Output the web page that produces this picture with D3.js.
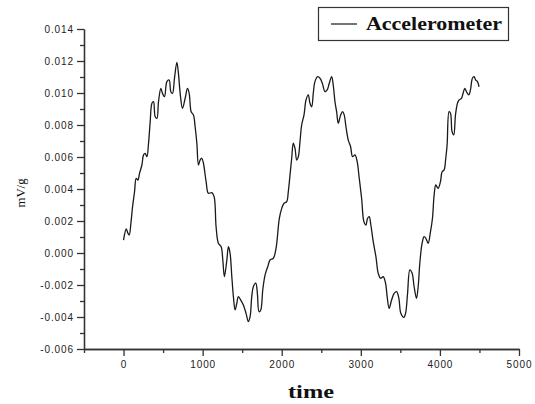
<!DOCTYPE html>
<head>
	<meta charset="utf-8" />
	<style>
		body {
			margin: 0;
			background-color: #fff;
			overflow: hidden;
		}
		.tick text {
			font: 10px 'Liberation Sans', Arial, sans-serif;
			letter-spacing: 0.9px;
			fill: #222;
		}
		.domain, .tick line {
			stroke: #333;
			stroke-width: 1.3px;
		}
	</style>
</head>

<body>
	<div id="chart-area"></div>

	<script src="https://cdn.jsdelivr.net/npm/d3@7/dist/d3.min.js"></script>

	<script>
		// readings taken off the original plot
		const time = [
			0, 34, 56, 72, 93, 114, 139, 160, 182, 202, 232, 253, 274, 295, 316, 337, 359, 379, 400, 422,
			442, 472, 492, 518, 548, 577, 598, 619, 644, 674, 694, 716, 745, 779, 808, 830, 855, 884, 905, 927,
			947, 968, 990, 1010, 1044, 1073, 1116, 1145, 1170, 1199, 1234, 1255, 1275, 1306, 1326, 1347, 1369, 1389, 1410, 1432,
			1452, 1482, 1515, 1549, 1578, 1600, 1621, 1641, 1672, 1692, 1713, 1735, 1760, 1789, 1823, 1852, 1894, 1928, 1970, 2000,
			2029, 2063, 2083, 2105, 2126, 2146, 2168, 2189, 2210, 2231, 2252, 2282, 2307, 2336, 2357, 2379, 2399, 2420, 2454, 2484,
			2513, 2547, 2576, 2601, 2631, 2651, 2673, 2694, 2715, 2745, 2770, 2790, 2812, 2841, 2871, 2896, 2926, 2954, 2980, 3010,
			3039, 3064, 3086, 3106, 3127, 3157, 3191, 3220, 3250, 3283, 3313, 3333, 3358, 3389, 3422, 3452, 3481, 3506, 3544, 3566,
			3591, 3620, 3649, 3674, 3704, 3725, 3746, 3775, 3800, 3822, 3851, 3881, 3906, 3927, 3948, 3977, 4007, 4028, 4053, 4074,
			4091, 4116, 4134, 4154, 4175, 4197, 4222, 4242, 4273, 4293, 4314, 4336, 4365, 4386, 4411, 4432, 4453, 4475, 4495
		];
		const accel = [
			0.00081, 0.0015, 0.00123, 0.00113, 0.00186, 0.00289, 0.00383, 0.00467, 0.00456, 0.00498,
			0.0055, 0.00613, 0.00623, 0.00602, 0.00686, 0.00821, 0.00936, 0.00946, 0.00852, 0.00842,
			0.00946, 0.01029, 0.00998, 0.00977, 0.01071, 0.01081, 0.01008, 0.00998, 0.01092, 0.01192,
			0.01123, 0.00998, 0.00904, 0.00967, 0.01029, 0.00998, 0.00883, 0.00863, 0.00789, 0.00686,
			0.0055, 0.00581, 0.00592, 0.00561, 0.00446, 0.00373, 0.00377, 0.00352, 0.00164, 0.00061,
			0.00039, -0.00044, -0.00148, -0.00044, 0.00039, -0.00002, -0.00148, -0.00273, -0.00356, -0.00314,
			-0.00273, -0.00294, -0.00325, -0.00377, -0.00429, -0.00398, -0.00273, -0.00211, -0.00189, -0.00252,
			-0.00367, -0.00356, -0.00231, -0.00138, -0.00086, -0.00044, -0.00033, 0.00029, 0.00217, 0.00279,
			0.00311, 0.00321, 0.00383, 0.00488, 0.00592, 0.00686, 0.00654, 0.00581, 0.00602, 0.00696,
			0.008, 0.00863, 0.00956, 0.00988, 0.00936, 0.00914, 0.00998, 0.01071, 0.01102, 0.01092,
			0.01061, 0.01008, 0.01021, 0.01061, 0.01102, 0.0105, 0.00946, 0.00883, 0.00811, 0.00863,
			0.00883, 0.00863, 0.00789, 0.00706, 0.00664, 0.00602, 0.00613, 0.00571, 0.00467, 0.00342,
			0.00196, 0.00175, 0.00217, 0.00227, 0.00175, 0.00071, -0.00023, -0.00127, -0.00158, -0.00148,
			-0.00189, -0.00273, -0.00346, -0.00294, -0.00252, -0.00242, -0.00283, -0.00377, -0.00402, -0.00377,
			-0.00252, -0.00106, -0.00127, -0.00211, -0.00283, -0.00211, -0.00064, 0.00061, 0.00102, 0.00092,
			0.00061, 0.00133, 0.00217, 0.00363, 0.00425, 0.00404, 0.00446, 0.00508, 0.00519, 0.00592,
			0.00675, 0.00883, 0.00873, 0.00758, 0.00738, 0.00863, 0.00936, 0.00956, 0.00967, 0.00998,
			0.01029, 0.01008, 0.00988, 0.01019, 0.01092, 0.01102, 0.01081, 0.01071, 0.01039
		];

		const xTicks = [0, 1000, 2000, 3000, 4000, 5000];
		const xMinorTicks = [-500, 500, 1500, 2500, 3500, 4500];
		const yTicks = [-0.006, -0.004, -0.002, 0.0, 0.002, 0.004, 0.006, 0.008, 0.01, 0.012, 0.014];
		const yMinorTicks = [-0.005, -0.003, -0.001, 0.001, 0.003, 0.005, 0.007, 0.009, 0.011, 0.013];

		const seriesName = 'Accelerometer';
		const xTitle = 'time';
		const yTitle = 'mV/g';

		const W = 535, H = 404;
		const margins = { top: 29, right: 16, bottom: 55, left: 84 };
		const width = W - margins.left - margins.right;
		const height = H - margins.top - margins.bottom;

		const data = time.map((t, i) => ({ t: t, v: accel[i] }));

		const x = d3.scaleLinear().domain([-500, 5000]).range([0, width]);
		const y = d3.scaleLinear().domain([-0.006, 0.014]).range([height, 0]);

		// plain hyphen for negatives, like the original
		const fmtY = v => d3.format('.3f')(v).replace('\u2212', '-');

		const svg = d3.select('#chart-area')
			.append('svg')
			.attr('width', W)
			.attr('height', H);

		const g = svg.append('g')
			.attr('transform', `translate(${margins.left},${margins.top})`);

		// minor ticks first, no labels
		g.append('g')
			.attr('transform', `translate(0,${height})`)
			.call(d3.axisBottom(x).tickValues(xMinorTicks).tickSize(4).tickSizeOuter(0).tickFormat(''));
		g.append('g')
			.call(d3.axisLeft(y).tickValues(yMinorTicks).tickSize(4).tickSizeOuter(0).tickFormat(''));

		g.append('g')
			.attr('transform', `translate(0,${height})`)
			.call(d3.axisBottom(x).tickValues(xTicks).tickSize(7).tickPadding(5).tickSizeOuter(0).tickFormat(d3.format('d')));
		g.append('g')
			.call(d3.axisLeft(y).tickValues(yTicks).tickSize(7).tickPadding(3).tickSizeOuter(0).tickFormat(fmtY));

		const line = d3.line()
			.curve(d3.curveCatmullRom.alpha(0.5))
			.x(d => x(d.t))
			.y(d => y(d.v));

		g.append('path')
			.datum(data)
			.attr('fill', 'none')
			.attr('stroke', '#1a1a1a')
			.attr('stroke-width', 1.3)
			.attr('stroke-linejoin', 'round')
			.attr('d', line);

		// axis titles
		svg.append('text')
			.attr('x', 288)
			.attr('y', 398)
			.attr('textLength', 46)
			.attr('lengthAdjust', 'spacingAndGlyphs')
			.style('font', "bold 19px 'Liberation Serif', serif")
			.style('fill', '#111')
			.text(xTitle);

		svg.append('text')
			.attr('transform', 'translate(25,193) rotate(-90)')
			.attr('text-anchor', 'middle')
			.attr('textLength', 29)
			.attr('lengthAdjust', 'spacingAndGlyphs')
			.style('font', "12px 'Liberation Serif', serif")
			.style('fill', '#111')
			.text(yTitle);

		// legend
		const legend = svg.append('g');
		legend.append('rect')
			.attr('x', 318.5).attr('y', 7.5)
			.attr('width', 190).attr('height', 33)
			.attr('fill', '#fff')
			.attr('stroke', '#333')
			.attr('stroke-width', 1.2);
		legend.append('line')
			.attr('x1', 331).attr('x2', 357)
			.attr('y1', 24).attr('y2', 24)
			.attr('stroke', '#1a1a1a')
			.attr('stroke-width', 1.2);
		legend.append('text')
			.attr('x', 366)
			.attr('y', 30)
			.attr('textLength', 136)
			.attr('lengthAdjust', 'spacingAndGlyphs')
			.style('font', "bold 18px 'Liberation Serif', serif")
			.style('fill', '#111')
			.text(seriesName);
	</script>
</body>
